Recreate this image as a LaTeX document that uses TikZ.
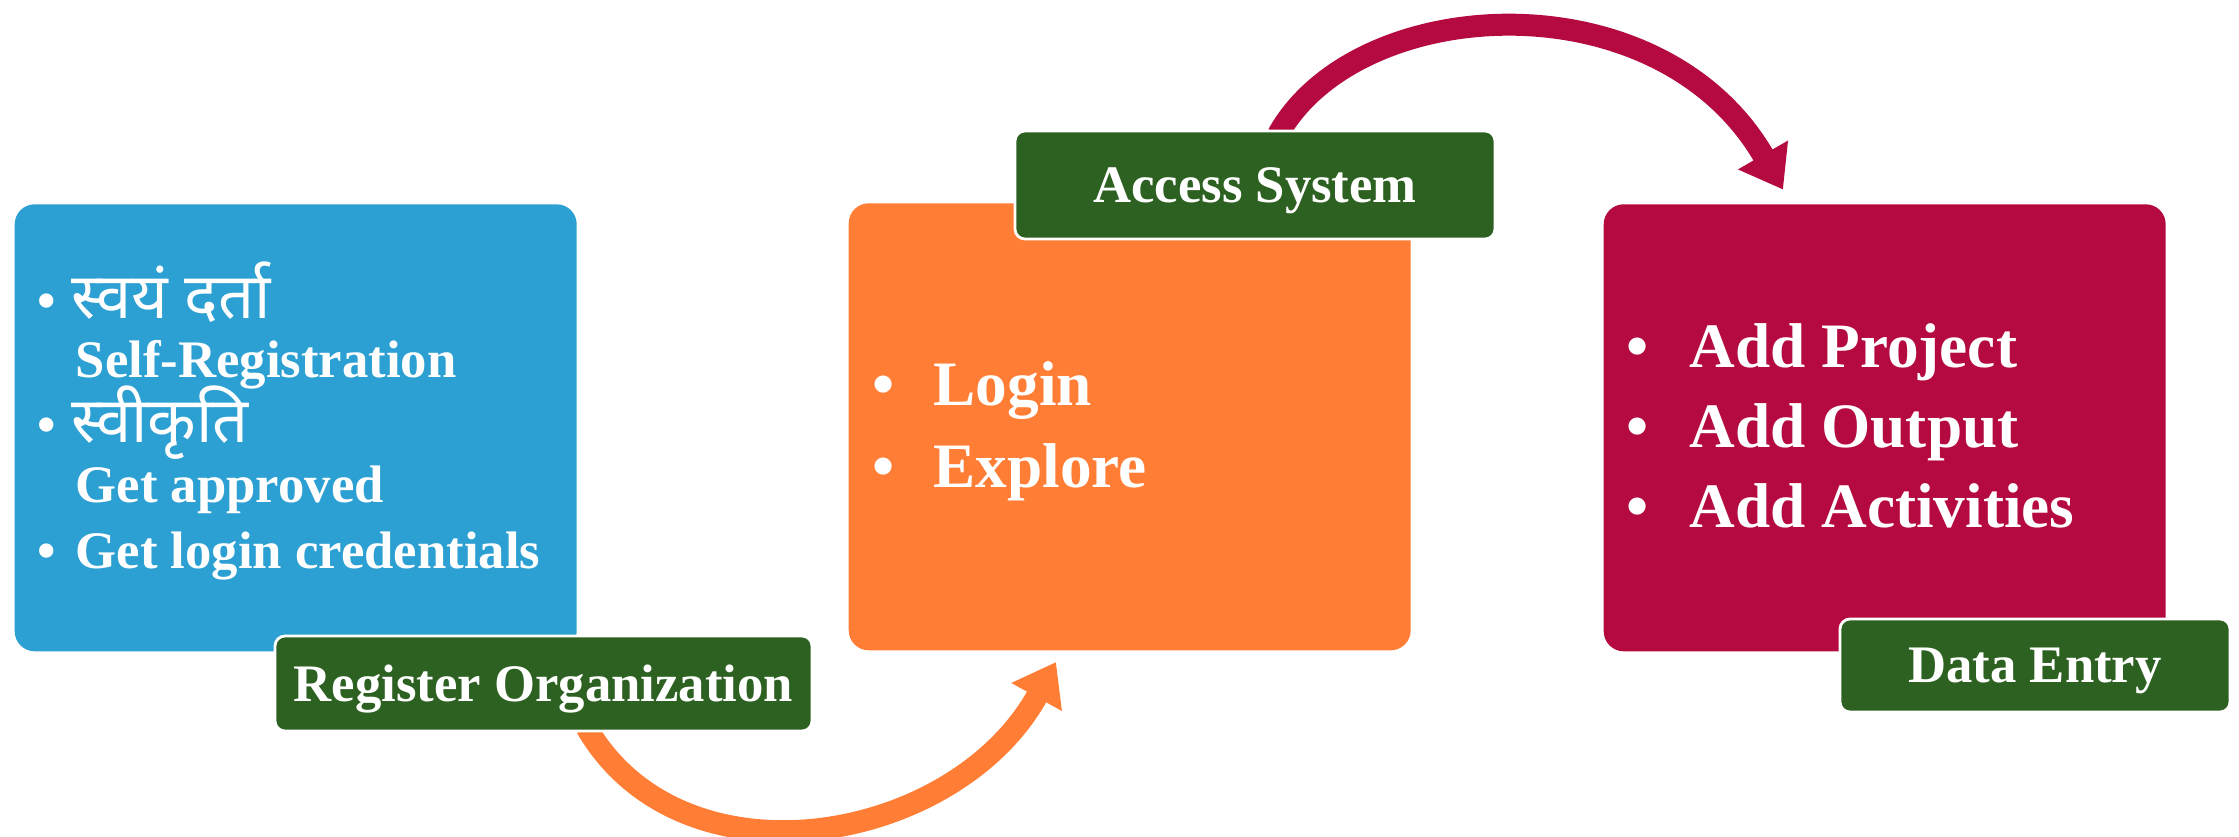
\documentclass[tikz,border=0pt]{standalone}
\usepackage{fontspec}
\setmainfont{Liberation Serif}
\newfontfamily\deva[Script=Devanagari]{Noto Sans}
\usetikzlibrary{arrows.meta,backgrounds}
\definecolor{stepblue}{RGB}{45,160,211}
\definecolor{steporange}{RGB}{255,125,53}
\definecolor{stepred}{RGB}{180,10,64}
\definecolor{tabgreen}{RGB}{45,97,33}
\begin{document}
\begin{tikzpicture}[
	panel/.style={rounded corners=2mm, anchor=south west, inner sep=0pt, minimum width=5.62cm, minimum height=4.47cm},
	tab/.style={fill=tabgreen, draw=white, line width=0.8pt, rounded corners=1mm, text=white, inner sep=0pt, text depth=0pt, font=\fontsize{15}{18}\selectfont\bfseries},
	item/.style={text=white, anchor=base west, inner sep=0pt, font=\fontsize{15}{18}\selectfont\bfseries},
	bigitem/.style={text=white, anchor=base west, inner sep=0pt, font=\fontsize{18}{22}\selectfont\bfseries},
	flow/.style={line width=2.2mm, -{Triangle[length=4mm,width=5.5mm]}}
]
	\useasboundingbox (0,0) rectangle (22.39,8.36);
	\node[panel, fill=stepblue] (regpanel) at (0.14,1.84) {};
	\node[panel, fill=steporange] (accpanel) at (8.48,1.85) {};
	\node[panel, fill=stepred] (datapanel) at (16.03,1.84) {};
	\node[tab, minimum width=5.37cm, minimum height=0.95cm] (regtab) at (5.435,1.525) {Register Organization};
	\node[tab, minimum width=4.80cm, minimum height=1.08cm] (acctab) at (12.55,6.51) {Access System};
	\node[tab, minimum width=3.90cm, minimum height=0.93cm] (datatab) at (20.35,1.705) {Data Entry};
	\begin{scope}[on background layer]
		\draw[flow, steporange] ([xshift=4.3mm,yshift=0.5mm]regtab.south) .. controls +(-60:1.9) and +(-119:2.1) .. ([xshift=20.8mm,yshift=-1.1mm]accpanel.south west);
		\draw[flow, stepred] ([xshift=2.3mm,yshift=-0.5mm]acctab.north) .. controls +(61:1.62) and +(120:2.47) .. ([xshift=18mm,yshift=1.4mm]datapanel.north west);
	\end{scope}
	\node[item, anchor=base] (dot1) at (0.47,5.18) {•};
	\node[item] (selfdev) at (0.71,5.18) {\deva\fontsize{18}{22}\selectfont स्वयं दर्ता};
	\node[item] (selfreg) at (0.75,4.59) {Self-Registration};
	\node[item, anchor=base] (dot2) at (0.47,3.94) {•};
	\node[item] (approvedev) at (0.71,3.94) {\deva\fontsize{18}{22}\selectfont स्वीकृति};
	\node[item] (approve) at (0.75,3.34) {Get approved};
	\node[item, anchor=base] (dot3) at (0.47,2.68) {•};
	\node[item] (creds) at (0.75,2.68) {Get login credentials};
	\node[bigitem, anchor=base] (dot4) at (8.84,4.31) {•};
	\node[bigitem] (login) at (9.33,4.31) {Login};
	\node[bigitem, anchor=base] (dot5) at (8.84,3.49) {•};
	\node[bigitem] (explore) at (9.33,3.49) {Explore};
	\node[bigitem, anchor=base] (dot6) at (16.38,4.69) {•};
	\node[bigitem] (project) at (16.89,4.69) {Add Project};
	\node[bigitem, anchor=base] (dot7) at (16.38,3.89) {•};
	\node[bigitem] (output) at (16.89,3.89) {Add Output};
	\node[bigitem, anchor=base] (dot8) at (16.38,3.09) {•};
	\node[bigitem] (activity) at (16.89,3.09) {Add Activities};
\end{tikzpicture}
\end{document}
